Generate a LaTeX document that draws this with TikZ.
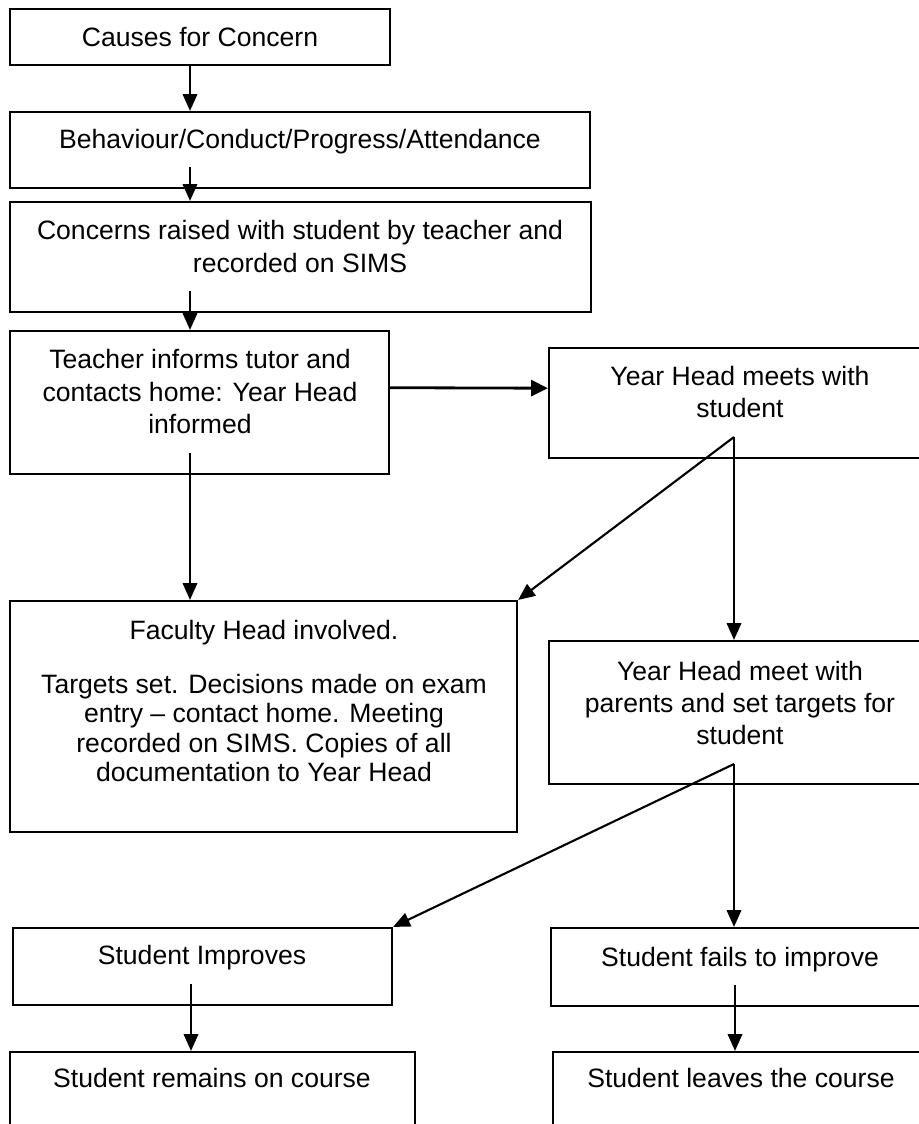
\documentclass[tikz,border=0pt]{standalone}
\usepackage{fontspec}
\setmainfont{Liberation Sans}
\usepackage{tikz}
\usetikzlibrary{arrows.meta}

\tikzset{
    box/.style={draw, line width=1.5pt},
    txt/.style={align=center, inner sep=0pt, font=\fontsize{18.9}{23}\selectfont},
    arr/.style={-{Triangle[length=4.2mm,width=3.6mm]}, line width=1.5pt}
}

\begin{document}
\begin{tikzpicture}[x=0.025cm, y=-0.025cm]

\useasboundingbox (0,0) rectangle (919,1124);

% Causes for Concern
\node[box, minimum width=9.5cm, minimum height=1.4cm] (causes) at (200,37) {};
\node[txt] (causestext) at (200,37) {Causes for Concern};

% Areas of concern
\node[box, minimum width=14.5cm, minimum height=1.9cm] (areas) at (300,150) {};
\node[txt] (areastext) at (300,142) {Behaviour/Conduct/Progress/Attendance};

% Concerns raised
\node[box, minimum width=14.525cm, minimum height=2.75cm] (raised) at (300.5,257) {};
\node[txt] (raisedtext) at (300,246.5) {Concerns raised with student by teacher and\\recorded on SIMS};

% Teacher informs tutor
\node[box, minimum width=9.475cm, minimum height=3.575cm] (inform) at (199.5,402.5) {};
\node[txt] (informtext) at (200,391.5) {Teacher informs tutor and\\contacts home: Year Head\\informed};

% Year Head meets with student
\node[box, minimum width=9.55cm, minimum height=2.75cm] (meets) at (740,403) {};
\node[txt] (meetstext) at (740,392) {Year Head meets with\\student};

% Faculty Head involved
\node[box, minimum width=12.675cm, minimum height=5.775cm] (faculty) at (263.5,716.5) {};
\node[txt, font=\fontsize{18.9}{21}\selectfont] (facultytext) at (264,701) {Faculty Head involved.\\[0.61cm]Targets set. Decisions made on exam\\entry – contact home. Meeting\\recorded on SIMS. Copies of all\\documentation to Year Head};

% Year Head meets with parents
\node[box, minimum width=9.55cm, minimum height=3.575cm] (parents) at (740,712.5) {};
\node[txt] (parentstext) at (740,703) {Year Head meet with\\parents and set targets for\\student};

% Outcomes
\node[box, minimum width=9.475cm, minimum height=1.925cm] (improves) at (202.5,966.5) {};
\node[txt] (improvestext) at (202,958) {Student Improves};

\node[box, minimum width=9.475cm, minimum height=1.95cm] (fails) at (740.5,967) {};
\node[txt] (failstext) at (740,960) {Student fails to improve};

\node[box, minimum width=10.125cm, minimum height=1.95cm] (remains) at (212.5,1091) {};
\node[txt] (remainstext) at (212,1078) {Student remains on course};

\node[box, minimum width=9.4cm, minimum height=1.95cm] (leaves) at (741,1091) {};
\node[txt] (leavestext) at (741,1078) {Student leaves the course};

% Arrow start points
\coordinate (causesout) at (190,65);
\coordinate (areasout) at (190,167);
\coordinate (raisedout) at (190,291);
\coordinate (informout) at (190,453);
\coordinate (meetsout) at (734,437);
\coordinate (parentsout) at (734,764);
\coordinate (improvesout) at (191,984);
\coordinate (failsout) at (735,985);

% Arrows
\draw[arr] (causesout) -- (causesout |- areas.north);
\draw[arr] (areasout) -- (areasout |- raised.north);
\draw[arr] (raisedout) -- (raisedout |- inform.north);
\draw[arr] (informout) -- (informout |- faculty.north);
\draw[arr, line width=2pt, -{Triangle[length=4.2mm,width=4mm]}] ([yshift=0.37cm]inform.east) -- ([yshift=0.37cm]meets.west);

\draw[arr] (meetsout) -- (faculty.north east);
\draw[arr] (meetsout) -- (meetsout |- parents.north);

\draw[arr] (parentsout) -- (improves.north east);
\draw[arr] (parentsout) -- (parentsout |- fails.north);

\draw[arr] (improvesout) -- (improvesout |- remains.north);
\draw[arr] (failsout) -- (failsout |- leaves.north);

\end{tikzpicture}
\end{document}
